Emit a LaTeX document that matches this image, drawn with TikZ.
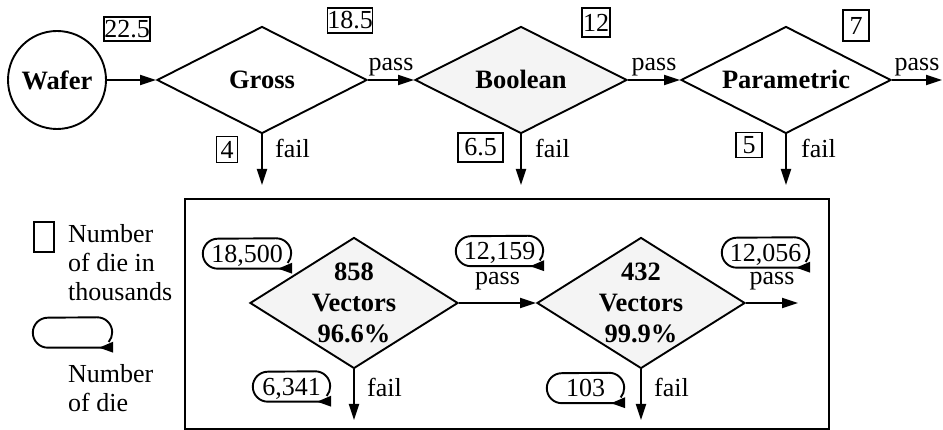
\documentclass[tikz,border=0pt]{standalone}
\usepackage{fontspec}
\setmainfont{Liberation Serif}
\usetikzlibrary{shapes.geometric,arrows.meta}
\definecolor{lightfill}{HTML}{F4F4F4}
\begin{document}
\begin{tikzpicture}[x=1pt,y=1pt,
  every node/.style={font=\fontsize{26}{29}\selectfont},
  test/.style={diamond, draw, line width=1.9pt, inner sep=0pt, shape aspect=1.96,
    minimum width=210pt, minimum height=107pt,
    font=\fontsize{26.5}{29}\selectfont\bfseries, text height=18pt, text depth=0pt},
  vecbox/.style={diamond, draw, fill=lightfill, line width=1.9pt, inner sep=-4pt, shape aspect=1.59,
    minimum width=208pt, minimum height=131pt,
    font=\fontsize{26.5}{31}\selectfont\bfseries, align=center},
  numbox/.style={draw, line width=1.3pt, inner sep=0pt},
  bubble/.style={minimum height=30pt, inner sep=0pt, text height=18pt, text depth=0pt},
  arr/.style={line width=1.9pt, -{Triangle[length=16pt,width=10pt]}},
  lbl/.style={inner sep=0pt},
  plabel/.style={lbl, anchor=base}
]
\useasboundingbox (0,0) rectangle (943,430);

% top row
\node[circle, draw, line width=1.9pt, minimum size=98pt, inner sep=0pt,
      font=\fontsize{26.5}{29}\selectfont\bfseries] (wafer) at (57,350) {Wafer};
\node[test] (gross) at (262,350) {Gross};
\node[test, fill=lightfill, minimum width=212pt] (bool) at (521,350) {Boolean};
\node[test] (param) at (786,350) {Parametric};
\coordinate (out) at (942,350);
\coordinate (f1) at (262,245);
\coordinate (f2) at (521,245);
\coordinate (f3) at (786,245);

\draw[arr] (wafer.east) -- (gross.west);
\draw[arr] (gross.east) -- node[plabel, yshift=9pt] (p1) {pass} (bool.west);
\draw[arr] (bool.east) -- node[plabel, yshift=9pt] (p2) {pass} (param.west);
\draw[arr] (param.east) -- node[plabel, yshift=9pt] (p3) {pass} (out);
\draw[arr] (gross.south) -- (f1);
\draw[arr] (bool.south) -- (f2);
\draw[arr] (param.south) -- (f3);
\node[lbl, anchor=base west] (fl1) at (275,272) {fail};
\node[lbl, anchor=base west] (fl2) at (535,272) {fail};
\node[lbl, anchor=base west] (fl3) at (801,272) {fail};

% number boxes (thousands)
\node[numbox, minimum width=46pt, minimum height=24pt] (n1) at (127,401) {22.5};
\node[numbox, minimum width=44pt, minimum height=25pt] (n2) at (350,409.5) {18.5};
\node[numbox, minimum width=28pt, minimum height=29pt] (n3) at (596,407.5) {12};
\node[numbox, minimum width=26pt, minimum height=31pt] (n4) at (856,404.5) {7};
\node[numbox, minimum width=21pt, minimum height=26pt] (n5) at (227,280.5) {4};
\node[numbox, minimum width=45pt, minimum height=29pt] (n6) at (480.5,282.5) {6.5};
\node[numbox, minimum width=26pt, minimum height=25pt] (n7) at (749,285) {5};

% legend
\node[numbox, minimum width=20pt, minimum height=30pt] (lrect) at (44,193) {};
\node[lbl, anchor=north west, align=left] (ltext1) at (68,206) {Number\\of die in\\thousands};
\node[bubble, minimum width=79pt] (lb) at (72.5,97.5) {};
\node[lbl, anchor=north west, align=left] (ltext2) at (68,65.7) {Number\\of die};

% frame
\node[draw, line width=1.5pt, minimum width=644pt, minimum height=230pt, inner sep=0pt] (frame) at (507,116) {};

% inner flow
\node[vecbox] (v1) at (354,127) {858\\Vectors\\96.6\%};
\node[vecbox] (v2) at (641,127) {432\\Vectors\\99.9\%};
\coordinate (v1f) at (354,10);
\coordinate (v2f) at (641,10);
\coordinate (v2o) at (798,127);
\draw[arr] (v1.south) -- (v1f);
\draw[arr] (v1.east) -- node[plabel, yshift=18pt] (p4) {pass} (v2.west);
\draw[arr] (v2.east) -- node[plabel, yshift=18pt] (p5) {pass} (v2o);
\draw[arr] (v2.south) -- (v2f);
\node[lbl, anchor=base west] (fl4) at (367,33) {fail};
\node[lbl, anchor=base west] (fl5) at (654,33) {fail};

% bubbles (number of die)
\node[bubble, minimum width=88pt] (b1) at (247,176.5) {18,500};
\node[bubble, minimum width=87pt] (b2) at (499.5,179) {12,159};
\node[bubble, minimum width=87pt] (b3) at (765.5,177.5) {12,056};
\node[bubble, minimum width=77pt] (b4) at (291.5,43.5) {6,341};
\node[bubble, minimum width=77pt] (b5) at (585.5,42) {103};

\foreach \b in {lb,b1,b2,b3,b4,b5}{
  \draw[line width=1.9pt] (\b.south east) -- ([xshift=15pt]\b.south west)
     arc[start angle=270, end angle=90, radius=15pt]
     -- ([xshift=-15pt]\b.north east)
     arc[start angle=90, end angle=-40, radius=15pt];
  \fill ([xshift=1pt,yshift=6pt]\b.south east) -- ([xshift=-13pt]\b.south east)
     -- ([xshift=1pt,yshift=-5pt]\b.south east) -- cycle;
}
\end{tikzpicture}
\end{document}
